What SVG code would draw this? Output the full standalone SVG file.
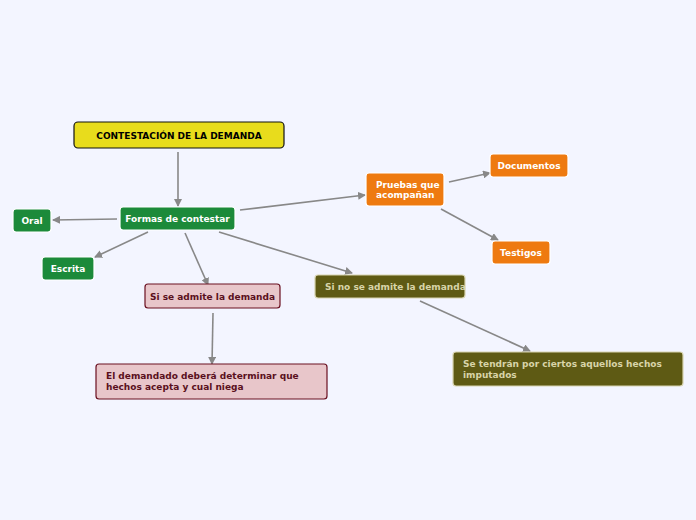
<svg xmlns="http://www.w3.org/2000/svg" width="696" height="520" viewBox="0 0 696 520">
<style>
text{font-family:"DejaVu Sans",sans-serif;font-weight:bold;font-size:9px}
.g rect{fill:#1c8a3a;stroke:#fff;stroke-width:1.2}
.g text,.o text{fill:#fff}
.o rect{fill:#ee7a10;stroke:#fff;stroke-width:1.2}
.p rect{fill:#e8c6ca;stroke:#6a1020;stroke-width:1.2}
.p text{fill:#5a1020}
.k rect{fill:#5e5a14;stroke:#d8d4b0;stroke-width:1.2}
.k text{fill:#d8d4a8}
#con line{stroke:#888;stroke-width:1.6;marker-end:url(#a)}
</style>
<defs><marker id="a" markerWidth="8" markerHeight="8" refX="7" refY="4" orient="auto" markerUnits="userSpaceOnUse"><path d="M0,0L8,4L0,8z" fill="#888"/></marker></defs>
<rect width="696" height="520" fill="#f3f5ff"/>
<g id="con">
<line x1="178" y1="152" x2="178" y2="206"/>
<line x1="117" y1="219" x2="53" y2="220"/>
<line x1="148" y1="232" x2="95" y2="257"/>
<line x1="185" y1="233" x2="208" y2="285"/>
<line x1="219" y1="232" x2="352" y2="273"/>
<line x1="240" y1="210" x2="365" y2="195"/>
<line x1="449" y1="182" x2="490" y2="173"/>
<line x1="441" y1="209" x2="498" y2="240"/>
<line x1="213" y1="313" x2="212" y2="364"/>
<line x1="420" y1="301" x2="530" y2="351"/>
</g>
<g id="n1"><rect x="74" y="122" width="210" height="26" rx="4" fill="#e8dc1c" stroke="#111" stroke-width="1.2"/><text x="179" y="139" text-anchor="middle" font-size="10.5">CONTESTACIÓN DE LA DEMANDA</text></g>
<g id="n2" class="g"><rect x="120" y="207" width="115" height="23" rx="3"/><text x="177.5" y="222" text-anchor="middle">Formas de contestar</text></g>
<g id="n3" class="g"><rect x="13" y="209" width="38" height="23" rx="3"/><text x="32" y="224" text-anchor="middle">Oral</text></g>
<g id="n4" class="g"><rect x="42" y="257" width="52" height="23" rx="3"/><text x="68" y="272" text-anchor="middle">Escrita</text></g>
<g id="n5" class="p"><rect x="145" y="284" width="135" height="24" rx="3"/><text x="212.5" y="300" text-anchor="middle">Si se admite la demanda</text></g>
<g id="n6" class="p"><rect x="96" y="364" width="231" height="35" rx="3"/><text x="106" y="379">El demandado deberá determinar que</text><text x="106" y="390">hechos acepta y cual niega</text></g>
<g id="n7" class="k"><rect x="315" y="275" width="150" height="23" rx="3"/><text x="325" y="290">Si no se admite la demanda</text></g>
<g id="n8" class="k"><rect x="453" y="352" width="230" height="34" rx="3"/><text x="463" y="367">Se tendrán por ciertos aquellos hechos</text><text x="463" y="378">imputados</text></g>
<g id="n9" class="o"><rect x="366" y="173" width="78" height="33" rx="3"/><text x="376" y="188">Pruebas que</text><text x="376" y="198">acompañan</text></g>
<g id="n10" class="o"><rect x="490" y="154" width="78" height="23" rx="3"/><text x="529" y="169" text-anchor="middle">Documentos</text></g>
<g id="n11" class="o"><rect x="492" y="241" width="58" height="23" rx="3"/><text x="521" y="256" text-anchor="middle">Testigos</text></g>
</svg>
